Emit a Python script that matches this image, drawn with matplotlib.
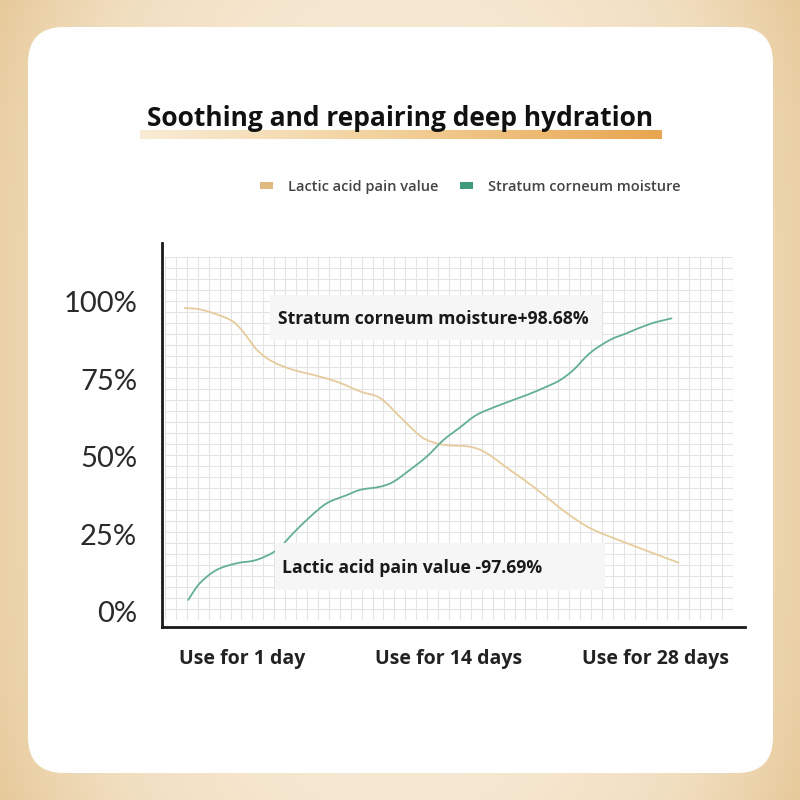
import numpy as np
import matplotlib.pyplot as plt
from matplotlib.patches import FancyBboxPatch, Rectangle, PathPatch
from matplotlib.path import Path
from matplotlib.colors import LinearSegmentedColormap

# Text
title = 'Soothing and repairing deep hydration'
series_names = ['Lactic acid pain value', 'Stratum corneum moisture']
day_labels = ['Use for 1 day', 'Use for 14 days', 'Use for 28 days']
note_moisture = 'Stratum corneum moisture+98.68%'
note_lactic = 'Lactic acid pain value -97.69%'

# x = position along the timeline (0-100), y = value in %
day_pos = [13.7, 49.2, 84.6]
y_ticks = [0, 25, 50, 75, 100]

lactic_x = [3.9, 7.0, 11.7, 13.9, 16.3, 19.0, 22.5, 27.1, 30.5, 34.0, 37.4, 40.8,
            43.7, 45.4, 48.3, 52.8, 55.7, 59.7, 63.7, 68.3, 71.1, 74.0, 79.7, 88.6]
lactic_y = [97.9, 97.3, 94.1, 90.3, 84.4, 80.6, 78.0, 75.8, 73.8, 71.0, 68.9, 62.9,
            57.6, 55.4, 53.8, 53.2, 51.1, 45.7, 40.3, 33.4, 29.6, 26.4, 22.1, 15.8]

moist_x = [4.5, 6.5, 9.4, 12.8, 16.2, 19.7, 22.5, 25.4, 28.3, 31.7, 34.0, 37.4, 39.7,
           42.5, 45.4, 48.3, 51.1, 54.0, 58.0, 62.6, 66.0, 68.3, 70.6, 73.4, 76.8,
           79.7, 83.7, 87.4]
moist_y = [3.8, 9.2, 13.5, 15.6, 16.7, 19.9, 25.3, 30.6, 35.0, 37.6, 39.3, 40.3, 41.9,
           45.7, 50.0, 55.4, 59.4, 63.5, 66.7, 69.9, 72.6, 74.7, 78.0, 83.4, 87.6,
           89.8, 92.8, 94.6]

tan = '#e6cb9c'
green = '#63ae97'
bold_font = ['Open Sans', 'DejaVu Sans']


def smooth_path(xs, ys):
    # bezier curve through every point (catmull-rom tangents)
    p = np.column_stack([xs, ys]).astype(float)
    verts = [p[0]]
    codes = [Path.MOVETO]
    for i in range(len(p) - 1):
        p0 = p[i - 1] if i > 0 else p[i]
        p3 = p[i + 2] if i + 2 < len(p) else p[i + 1]
        c1 = p[i] + (p[i + 1] - p0) / 6
        c2 = p[i + 1] - (p3 - p[i]) / 6
        verts += [c1, c2, p[i + 1]]
        codes += [Path.CURVE4] * 3
    return Path(verts, codes)


fig = plt.figure(figsize=(8, 8), dpi=100)

# golden background with white rounded card
bg = fig.add_axes([0, 0, 1, 1], zorder=-10)
yy, xx = np.mgrid[0:1:200j, 0:1:200j]
t = np.clip((np.abs(xx - 0.5) * 2) ** 2 * 0.8 + (np.abs(yy - 0.5) * 2) ** 4 * 0.15, 0, 1)
gold = LinearSegmentedColormap.from_list('gold', ['#f7ebd7', '#f1dfc1', '#e6c897'])
bg.imshow(t, cmap=gold, vmin=0, vmax=1, extent=[0, 1, 0, 1], aspect='auto', origin='lower')
bg.add_patch(FancyBboxPatch((28 / 800, 27 / 800), 745 / 800, 746 / 800,
                            boxstyle='round,pad=0,rounding_size=0.045',
                            facecolor='white', edgecolor='none'))
bg.set_xlim(0, 1)
bg.set_ylim(0, 1)
bg.axis('off')

# title with gradient underline
bar = fig.add_axes([140 / 800, 1 - 139 / 800, 522 / 800, 9 / 800], zorder=-5)
bar.imshow(np.linspace(0, 1, 256)[None, :], aspect='auto',
           cmap=LinearSegmentedColormap.from_list('bar', ['#f9ecd6', '#f2cf98', '#e9a54f']))
bar.axis('off')
fig.text(0.5, 1 - 118 / 800, title, ha='center', va='center', fontsize=19,
         fontweight='bold', family=bold_font, color='#111111')

# grid paper
grid_ax = fig.add_axes([165 / 800, 180 / 800, 568 / 800, 363 / 800], zorder=-4)
grid_ax.set_xlim(0, 52)
grid_ax.set_ylim(0, 33)
grid_ax.set_xticks(np.arange(0, 53))
grid_ax.set_yticks(np.arange(0, 34))
grid_ax.grid(True, color='#e4e4e4', linewidth=0.8)
grid_ax.tick_params(length=0, labelbottom=False, labelleft=False)
for s in grid_ax.spines.values():
    s.set_visible(False)
grid_ax.patch.set_alpha(0)

# main chart
ax = fig.add_axes([162 / 800, 173 / 800, 583 / 800, 384 / 800])
ax.patch.set_alpha(0)
ax.add_patch(PathPatch(smooth_path(lactic_x, lactic_y), facecolor='none',
                       edgecolor=tan, linewidth=1.3, capstyle='round'))
ax.add_patch(PathPatch(smooth_path(moist_x, moist_y), facecolor='none',
                       edgecolor=green, linewidth=1.3, capstyle='round'))
ax.set_xlim(0, 100)
ax.set_ylim(-4.94, 118.9)

for side in ['top', 'right']:
    ax.spines[side].set_visible(False)
for side in ['left', 'bottom']:
    ax.spines[side].set_linewidth(2)
    ax.spines[side].set_color('#1a1a1a')

ax.set_yticks(y_ticks, [f'{v}%' for v in y_ticks])
ax.tick_params(axis='y', length=0, pad=18, labelsize=21, labelcolor='#2a2a2a')
for lbl in ax.get_yticklabels():
    lbl.set_family(['Lato', 'DejaVu Sans'])
    lbl.set_fontweight('normal')

ax.set_xticks(day_pos, day_labels)
ax.tick_params(axis='x', length=0, pad=16, labelsize=14, labelcolor='#222222')
for lbl in ax.get_xticklabels():
    lbl.set_family(bold_font)
    lbl.set_fontweight('bold')

# annotation boxes
fig.add_artist(Rectangle((270 / 800, 1 - 340 / 800), 332 / 800, 45 / 800,
                         transform=fig.transFigure, facecolor='#f6f6f6',
                         edgecolor='none', zorder=1))
fig.text(433 / 800, 1 - 319 / 800, note_moisture, ha='center', va='center',
         fontsize=12.7, fontweight='bold', family=bold_font, color='#1a1a1a', zorder=2)
fig.add_artist(Rectangle((275 / 800, 1 - 590 / 800), 330 / 800, 47 / 800,
                         transform=fig.transFigure, facecolor='#f6f6f6',
                         edgecolor='none', zorder=1))
fig.text(282 / 800, 1 - 568 / 800, note_lactic, ha='left', va='center',
         fontsize=12.7, fontweight='bold', family=bold_font, color='#1a1a1a', zorder=2)

# legend
handles = [Rectangle((0, 0), 1, 1, facecolor='#dfb97f'),
           Rectangle((0, 0), 1, 1, facecolor='#3e9c7c')]
leg = fig.legend(handles, series_names, loc='center', ncol=2, frameon=False,
                 bbox_to_anchor=(470 / 800, 1 - 187 / 800), handlelength=0.9,
                 handleheight=0.35, handletextpad=1.0, columnspacing=1.5,
                 prop={'family': bold_font, 'weight': 'semibold', 'size': 10.5})
for t in leg.get_texts():
    t.set_color('#444444')

fig.savefig('out.png', dpi=100)
